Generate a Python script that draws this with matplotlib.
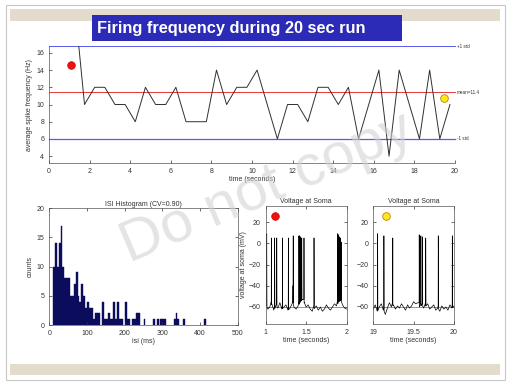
import numpy as np
import matplotlib
matplotlib.use("Agg")
import matplotlib.pyplot as plt
from matplotlib.patches import Rectangle

plt.rcParams['font.family'] = ['Liberation Sans', 'DejaVu Sans']

# average spike frequency (Hz) sampled every 0.5 s
freq_t = [1.25, 1.75, 2.25, 2.75, 3.25, 3.75, 4.25, 4.75, 5.25, 5.75, 6.25, 6.75, 7.25, 7.75,
          8.25, 8.75, 9.25, 9.75, 10.25, 10.75, 11.25, 11.75, 12.25, 12.75, 13.25, 13.75,
          14.25, 14.75, 15.25, 15.75, 16.25, 16.75, 17.25, 17.75, 18.25, 18.75, 19.25, 19.75]
freq_hz = [22, 10, 12, 12, 10, 10, 8, 12, 10, 10, 12, 8, 8, 8,
           14, 10, 12, 12, 14, 10, 6, 10, 10, 8, 12, 12,
           10, 12, 6, 10, 14, 4, 14, 10, 6, 14, 6, 10]
mean_hz = 11.4
std_hz = 5.4

# ISI histogram, 5 ms bins starting at 10 ms
isi_left = [10, 15, 20, 25, 30, 35, 40, 45, 50, 55, 60, 65, 70, 75, 80, 85, 90, 95,
            100, 105, 110, 115, 120, 125, 130, 140, 145, 150, 155, 160, 165, 170, 175,
            180, 185, 190, 200, 205, 210, 220, 225, 230, 235, 250, 275, 285, 295, 300,
            305, 330, 335, 340, 355, 410]
isi_count = [10, 14, 10, 14, 17, 10, 8, 8, 8, 5, 5, 7, 9, 5, 4, 7, 5, 3,
             4, 3, 3, 1, 2, 2, 2, 4, 1, 1, 2, 1, 1, 4, 1,
             4, 1, 1, 4, 1, 1, 1, 1, 2, 2, 1, 1, 1, 1, 1,
             1, 1, 2, 1, 1, 1]

# voltage at soma, baseline every 25 ms plus spikes (time, peak mV)
v1_base = [-58, -62, -60, -57, -63, -59, -61, -56, -62, -60, -58, -63, -61, -57, -60, -62,
           -59, -55, -53, -56, -60, -58, -62, -64, -61, -59, -63, -60, -64, -62, -58, -61,
           -63, -60, -57, -59, -55, -54, -58, -61, -62]
v1_spk_t = [1.004, 1.012, 1.07, 1.11, 1.136, 1.206, 1.207, 1.28, 1.338, 1.34, 1.41, 1.42,
            1.428, 1.435, 1.445, 1.473, 1.597, 1.889, 1.9, 1.91, 1.92, 1.935]
v1_spk_v = [-37, 9, 5, 5, 5, -15, 5, 5, -40, 7, 7, 7, 6, 4, 5, 5, 5, 9, 8, 6, 5, 1]
v2_base = [-62, -58, -64, -60, -57, -63, -67, -61, -56, -60, -58, -62, -59, -61, -57, -60,
           -63, -58, -61, -59, -55, -57, -56, -60, -58, -61, -59, -57, -62, -60, -58, -63,
           -61, -64, -59, -62, -60, -63, -58, -61, -59]
v2_spk_t = [19.054, 19.132, 19.24, 19.242, 19.57, 19.59, 19.61, 19.65, 19.806, 19.98]
v2_spk_v = [9, 7, -39, 5, 8, 7, 6, 5, 7, 7]


def trace(t0, base, spk_t, spk_v):
    bt = t0 + 0.025 * np.arange(len(base))
    pts = list(zip(bt, base))
    for t, v in zip(spk_t, spk_v):
        b = np.interp(t, bt, base)
        pts += [(t - 0.0015, b + 3), (t, v), (t + 0.003, b)]
    pts.sort()
    x, y = zip(*pts)
    return x, y


fig = plt.figure(figsize=(5.12, 3.84), dpi=100)

# slide frame
fig.patches.append(Rectangle((6 / 512, 4 / 384), 499 / 512, 375 / 384, transform=fig.transFigure,
                             facecolor='white', edgecolor='#c8c8c8', lw=0.8, zorder=-2))
for yb in (1 - 20.7 / 384, 9 / 384):
    fig.patches.append(Rectangle((10 / 512, yb), 490 / 512, 11.5 / 384, transform=fig.transFigure,
                                 facecolor='#e3dccd', edgecolor='none', zorder=-1))
# title box
fig.patches.append(Rectangle((92 / 512, 1 - 41 / 384), 310 / 512, 26 / 384, transform=fig.transFigure,
                             facecolor='#2b2bb8', edgecolor='none', zorder=4))
fig.text(97 / 512, 1 - 28.5 / 384, 'Firing frequency during 20 sec run', fontsize=11.8,
         fontweight='bold', color='white', va='center', ha='left', zorder=5)

fs = 5

# top: firing frequency
ax = fig.add_axes([0.0957, 0.5755, 0.793, 0.3047])
ax.plot(freq_t, freq_hz, color='#303030', lw=0.7, zorder=3)
ax.axhline(mean_hz, color='#e83838', lw=0.7, clip_on=False)
ax.axhline(mean_hz + std_hz, color='#5a5aee', lw=0.7, clip_on=False)
ax.axhline(mean_hz - std_hz, color='#5a5aee', lw=0.9, clip_on=False)
ax.text(20.1, mean_hz + std_hz, '+1 std', fontsize=3.3, va='center', color='#333333')
ax.text(20.1, mean_hz, 'mean=11.4', fontsize=3.3, va='center', color='#333333')
ax.text(20.1, mean_hz - std_hz, '-1 std', fontsize=3.3, va='center', color='#333333')
ax.plot([1.08], [14.55], 'o', ms=5.5, color='#ee1111', mec='#cc0000', mew=0.5)
ax.plot([19.47], [10.8], 'o', ms=5.5, color='#ffe81a', mec='#c08000', mew=0.6)
ax.set_xlim(0, 20)
ax.set_ylim(3.2, 16.8)
ax.set_xticks(range(0, 21, 2))
ax.set_yticks(range(4, 17, 2))
ax.spines['top'].set_visible(False)
ax.spines['right'].set_visible(False)
ax.tick_params(direction='in', labelsize=fs, length=2, width=0.5, colors='#333333')
ax.set_xlabel('time (seconds)', fontsize=fs, color='#333333', labelpad=1)
ax.set_ylabel('average spike frequency (Hz)', fontsize=fs, color='#333333', labelpad=2)
ax.patch.set_alpha(0)
for s in ax.spines.values():
    s.set_linewidth(0.5)
    s.set_color('#555555')

# ISI histogram
ah = fig.add_axes([0.0963, 0.1536, 0.368, 0.304])
ah.bar(isi_left, isi_count, width=5, align='edge', color='#0c0c5c', edgecolor='#0c0c5c', lw=0.3)
ah.set_xlim(0, 500)
ah.set_ylim(0, 20)
ah.set_xticks(range(0, 501, 100))
ah.set_yticks(range(0, 21, 5))
ah.set_title('ISI Histogram (CV=0.90)', fontsize=fs, color='#333333', pad=2)
ah.set_xlabel('isi (ms)', fontsize=fs, color='#333333', labelpad=1)
ah.set_ylabel('counts', fontsize=fs, color='#333333', labelpad=2)

# voltage traces
av1 = fig.add_axes([0.519, 0.1563, 0.158, 0.307])
av2 = fig.add_axes([0.729, 0.1563, 0.1576, 0.307])
x1, y1 = trace(1.0, v1_base, v1_spk_t, v1_spk_v)
x2, y2 = trace(19.0, v2_base, v2_spk_t, v2_spk_v)
for a, x, y, lim in ((av1, x1, y1, (1, 2)), (av2, x2, y2, (19, 20))):
    a.axhline(-60, color='#d04040', lw=0.5)
    a.plot(x, y, color='black', lw=0.5)
    a.set_xlim(*lim)
    a.set_ylim(-76, 35)
    a.set_xticks([lim[0], lim[0] + 0.5, lim[1]])
    a.set_xticklabels([str(lim[0]), str(lim[0] + 0.5), str(lim[1])])
    a.set_yticks([-60, -40, -20, 0, 20])
    a.set_title('Voltage at Soma', fontsize=fs, color='#333333', pad=2)
    a.set_xlabel('time (seconds)', fontsize=fs, color='#333333', labelpad=1)
av1.set_ylabel('voltage at soma (mV)', fontsize=fs, color='#333333', labelpad=1)
av1.plot([1.12], [26], 'o', ms=5.5, color='#ee1111', mec='#cc0000', mew=0.5)
av2.plot([19.16], [26], 'o', ms=5.5, color='#ffe81a', mec='#c08000', mew=0.6)

for a in (ah, av1, av2):
    a.tick_params(direction='in', labelsize=fs, length=2, width=0.5, colors='#333333',
                  top=True, right=True)
    for s in a.spines.values():
        s.set_linewidth(0.5)
        s.set_color('#555555')

# watermark
fig.text(0.522, 0.51, 'Do not copy', fontsize=42, color='#d2d2d2', alpha=0.6,
         rotation=23, ha='center', va='center', zorder=10)

fig.savefig('out.png', dpi=100)
